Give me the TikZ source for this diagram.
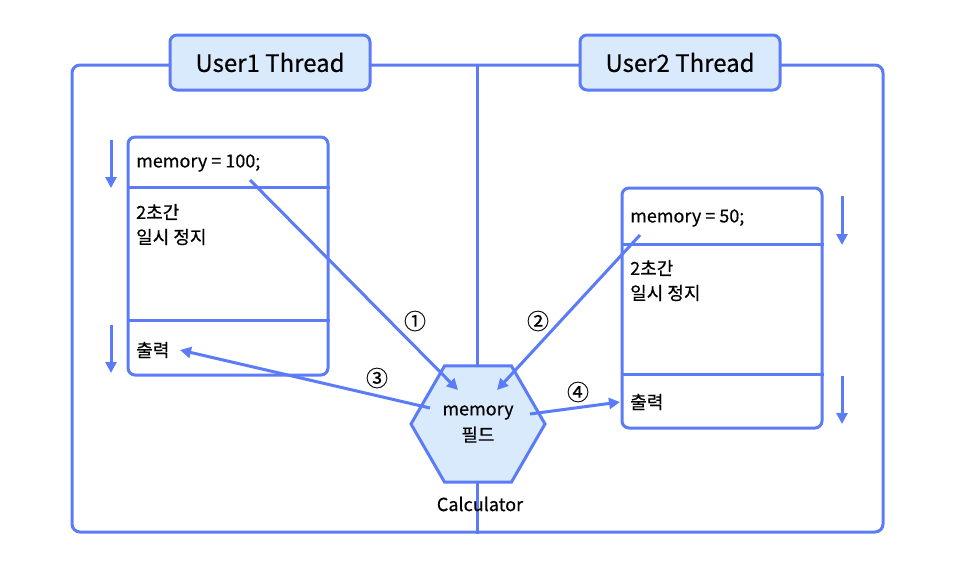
\documentclass[tikz,border=0pt]{standalone}
\usepackage{fontspec}
\setmainfont{Noto Sans CJK KR}[FakeBold=0.4]
\usetikzlibrary{shapes.geometric,arrows.meta}
\definecolor{lineblue}{HTML}{5B7BF7}
\definecolor{fillblue}{HTML}{DAEAFD}
\begin{document}
\begin{tikzpicture}[x=1pt,y=-1pt,
  ln/.style={draw=lineblue, line width=3pt},
  titlebox/.style={ln, fill=fillblue, rounded corners=7pt, minimum width=200pt, minimum height=55pt, inner sep=0, font=\fontsize{24}{28}\selectfont},
  codebox/.style={ln, rounded corners=7pt, minimum width=200pt, inner sep=0},
  arr/.style={draw=lineblue, line width=3pt, -{Triangle[length=11pt,width=11pt]}},
  txt/.style={anchor=west, font=\fontsize{18}{22}\selectfont, inner sep=0},
  num/.style={font=\fontsize{22}{24}\selectfont, inner sep=0}
]
\useasboundingbox (0,0) rectangle (964,576);
% outer frame and divider
\node[ln, rounded corners=8pt, minimum width=811pt, minimum height=467pt, inner sep=0] (frame) at (477.5,298.5) {};
\draw[ln] (frame.north) -- (frame.south);
% titles
\node[titlebox] (t1) at (270,62.5) {User1 Thread};
\node[titlebox] (t2) at (680,62.5) {User2 Thread};
% left code box
\node[codebox, minimum height=238pt] (box1) at (228,256) {};
\draw[ln] (box1.west |- 0,187) -- (box1.east |- 0,187);
\draw[ln] (box1.west |- 0,320) -- (box1.east |- 0,320);
\node[txt] (m1) at (136,163) {memory = 100;};
\node[txt] (s1a) at (136,212) {2초간};
\node[txt] (s1b) at (136,237) {일시 정지};
\node[txt] (o1) at (136,350) {출력};
% right code box
\node[codebox, minimum height=240pt] (box2) at (722,308) {};
\draw[ln] (box2.west |- 0,244) -- (box2.east |- 0,244);
\draw[ln] (box2.west |- 0,374) -- (box2.east |- 0,374);
\node[txt] (m2) at (630,218) {memory = 50;};
\node[txt] (s2a) at (630,268) {2초간};
\node[txt] (s2b) at (630,293) {일시 정지};
\node[txt] (o2) at (630,402) {출력};
% side arrows
\coordinate (l1s) at (111,140); \coordinate (l1e) at (111,188);
\coordinate (l2s) at (111,325); \coordinate (l2e) at (111,373);
\coordinate (r1s) at (842,196); \coordinate (r1e) at (842,245);
\coordinate (r2s) at (842,376); \coordinate (r2e) at (842,424);
\draw[arr] (l1s) -- (l1e);
\draw[arr] (l2s) -- (l2e);
\draw[arr] (r1s) -- (r1e);
\draw[arr] (r2s) -- (r2e);
% hexagon
\node[regular polygon, regular polygon sides=6, ln, fill=fillblue, minimum size=134pt, inner sep=0] (hex) at (478,424) {};
\node[font=\fontsize{18}{26}\selectfont, align=center, inner sep=0] (hext) at (478,424) {memory\\필드};
\node[font=\fontsize{18}{22}\selectfont, inner sep=0] (calc) at (480,504) {Calculator};
% main arrows
\coordinate (a1s) at (250,180); \coordinate (a1e) at (458,390);
\coordinate (a2s) at (640,235); \coordinate (a2e) at (497,390);
\coordinate (a3s) at (430,408); \coordinate (a3e) at (180,350);
\coordinate (a4s) at (530,414); \coordinate (a4e) at (620,402);
\draw[arr] (a1s) -- (a1e);
\draw[arr] (a2s) -- (a2e);
\draw[arr] (a3s) -- (a3e);
\draw[arr] (a4s) -- (a4e);
\node[num] (n1) at (415,321) {①};
\node[num] (n2) at (538,321) {②};
\node[num] (n3) at (377,378) {③};
\node[num] (n4) at (578,392) {④};
\end{tikzpicture}
\end{document}
